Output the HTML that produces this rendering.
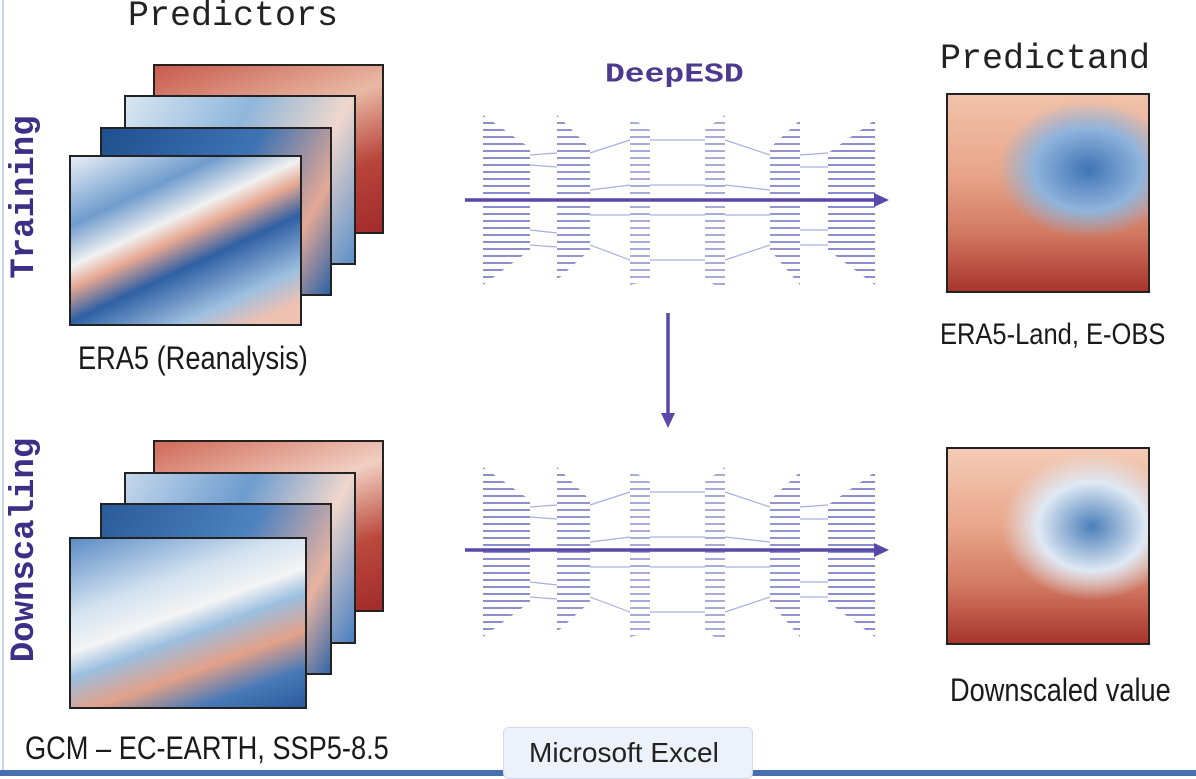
<!DOCTYPE html>
<html><head><meta charset="utf-8"><style>
body{margin:0;width:1196px;height:776px;background:#fff;position:relative;overflow:hidden;font-family:"Liberation Sans",sans-serif}
.t{position:absolute;white-space:nowrap}
.mono{font-family:"Liberation Mono",monospace;color:#222}
.lab{font-size:32px;color:#1a1a1a;transform:scaleX(0.85);transform-origin:left}
.rot{position:absolute;font-family:"Liberation Mono",monospace;font-weight:bold;color:#3d2f85;font-size:34px;transform:rotate(-90deg);transform-origin:center;text-align:center;line-height:40px;height:40px}
.fr{position:absolute;border:2px solid #222;box-sizing:border-box}
</style></head><body>
<div style="position:absolute;left:2px;top:0;width:2px;height:772px;background:#c9d6e8"></div>
<div class="t mono" style="left:128px;top:-4px;font-size:35px">Predictors</div>
<div class="t mono" style="left:940px;top:39px;font-size:35px">Predictand</div>
<div class="t" style="left:605px;top:56px;font-size:33px;font-weight:bold;color:#4b3a8f;font-family:'Liberation Mono',monospace;transform:scaleY(0.8);transform-origin:left">DeepESD</div>
<div class="rot" style="left:-65px;top:177px;width:180px">Training</div>
<div class="rot" style="left:-95px;top:530px;width:240px">Downscaling</div>

<div class="fr" style="left:153px;top:64px;width:231px;height:170px;background:linear-gradient(160deg,#c85a4a,#e9b9a5 40%,#b8453a 70%,#a32b2b)"></div>
<div class="fr" style="left:124px;top:95px;width:232px;height:170px;background:linear-gradient(120deg,#d8e6f2,#8fb6da 40%,#f0d7cc 70%,#5d8fc7)"></div>
<div class="fr" style="left:100px;top:127px;width:232px;height:169px;background:linear-gradient(120deg,#1f4f8f,#3e73b4 50%,#e3a996 80%,#2d62a6)"></div>
<div class="fr" style="left:69px;top:155px;width:233px;height:171px;background:linear-gradient(155deg,#e7eef6 0%,#6f9ccd 25%,#f1f1f1 40%,#e6a892 48%,#2f60a4 60%,#9fc0e0 80%,#eec1b1 92%)"></div>
<div class="t lab" style="left:78px;top:340px">ERA5 (Reanalysis)</div>

<div class="fr" style="left:153px;top:440px;width:231px;height:172px;background:linear-gradient(160deg,#d06a58,#f1cfc2 40%,#bb4a3c 70%,#a32b2b)"></div>
<div class="fr" style="left:124px;top:472px;width:232px;height:172px;background:linear-gradient(120deg,#c5d8ec,#6d9ccf 40%,#f0d7cc 70%,#4a7fc0)"></div>
<div class="fr" style="left:100px;top:503px;width:232px;height:172px;background:linear-gradient(120deg,#2a5a9a,#4e82c0 50%,#e8b3a0 80%,#3567a8)"></div>
<div class="fr" style="left:69px;top:537px;width:238px;height:172px;background:linear-gradient(160deg,#5c8cc6 0%,#d2e2f0 30%,#f4f4f4 45%,#9cbfe0 55%,#e2a189 70%,#4779b8 85%,#2a5a9c)"></div>
<div class="t lab" style="left:25px;top:730px">GCM – EC-EARTH, SSP5-8.5</div>

<div class="fr" style="left:946px;top:93px;width:204px;height:200px;background:radial-gradient(ellipse 45% 35% at 70% 38%,#3f74b5,#8fb4dc 60%,rgba(240,200,185,0) 100%),linear-gradient(180deg,#f2c2aa 0%,#e8a68a 40%,#d27a62 70%,#a8352c 100%)"></div>
<div class="t lab" style="left:940px;top:318px;font-size:30px">ERA5-Land, E-OBS</div>
<div class="fr" style="left:946px;top:447px;width:204px;height:198px;background:radial-gradient(ellipse 45% 38% at 72% 40%,#4a7eb9,#dfe9f4 60%,rgba(240,210,195,0) 100%),linear-gradient(180deg,#f4cbb6 0%,#e8a68a 40%,#d27a62 70%,#a8352c 100%)"></div>
<div class="t lab" style="left:950px;top:672px">Downscaled value</div>

<svg style="position:absolute;left:0;top:0" width="1196" height="776">
<defs>
<pattern id="st" width="10" height="7" patternUnits="userSpaceOnUse"><rect width="10" height="2" fill="#6f6fc4"/></pattern>
<g id="net">
 <g stroke="#a9aee0" stroke-width="1.2" fill="none">
  <path d="M530 40 L557 38 M530 50 L557 52 M590 38 L630 25 M590 75 L630 70 M650 25 L705 25 M650 70 L705 70 M725 25 L770 40 M725 70 L770 75 M800 40 L828 38 M800 52 L828 52"/>
  <path d="M530 130 L557 132 M530 115 L557 118 M590 130 L630 145 M590 100 L630 100 M650 145 L705 145 M650 100 L705 100 M725 145 L770 130 M725 100 L770 100 M800 130 L828 130 M800 115 L828 115"/>
 </g>
 <polygon points="483,0 530,33 530,135 483,170" fill="url(#st)" opacity="0.8"/>
 <polygon points="557,0 590,33 590,135 557,165" fill="url(#st)" opacity="0.75"/>
 <polygon points="630,2 650,15 650,165 630,170" fill="url(#st)" opacity="0.6"/>
 <polygon points="705,15 725,0 725,175 705,165" fill="url(#st)" opacity="0.6"/>
 <polygon points="770,33 800,5 800,170 770,135" fill="url(#st)" opacity="0.75"/>
 <polygon points="828,38 875,5 875,170 828,135" fill="url(#st)" opacity="0.8"/>
</g>
</defs>
<use href="#net" transform="translate(0,115)"/>
<use href="#net" transform="translate(0,467)"/>
<g stroke="#5a48a8" stroke-width="3.5">
<line x1="465" y1="200" x2="875" y2="200"/>
<line x1="465" y1="550" x2="875" y2="550"/>
<line x1="668" y1="313" x2="668" y2="415"/>
</g>
<g fill="#5a48a8">
<polygon points="874,193 889,200 874,207"/>
<polygon points="874,543 889,550 874,557"/>
<polygon points="661,413 668,428 675,413"/>
</g>
</svg>

<div style="position:absolute;left:0;top:770px;width:1196px;height:6px;background:#4a6fb0"></div>
<div style="position:absolute;left:503px;top:727px;width:250px;height:52px;background:#edf1f9;border:1px solid #d3d9e6;border-radius:6px;box-sizing:border-box"></div>
<div class="t" style="left:529px;top:737px;font-size:28px;color:#222">Microsoft Excel</div>
</body></html>
